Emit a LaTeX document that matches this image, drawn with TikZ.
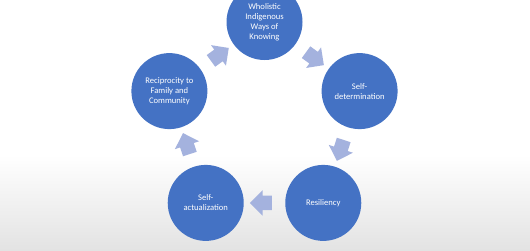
\documentclass[tikz,border=0pt]{standalone}
\usepackage{fontspec}
\setmainfont{Carlito}
\usetikzlibrary{calc,shapes.arrows}
\definecolor{circleblue}{RGB}{68,114,196}
\definecolor{arrowblue}{RGB}{164,178,222}

\begin{document}
\begin{tikzpicture}[
    x=1pt,
    y=1pt,
    stage/.style={circle,fill=circleblue,minimum size=76pt,inner sep=1pt,
      align=center,text=white,font=\fontsize{8.6}{10}\selectfont},
    cyclearrow/.style={single arrow,fill=arrowblue,minimum height=22pt,
      inner xsep=0pt,inner ysep=7pt,single arrow head extend=5.5pt}
]
  \useasboundingbox (0,0) rectangle (530,250);
  \clip (0,0) rectangle (530,250);
  % background
  \fill[white] (0,0) rectangle (530,250);
  \shade[top color=white,bottom color=black!11] (0,0) rectangle (530,95);

  \coordinate (hub) at (264.5,128);
  \node[stage] (wholistic) at ($(hub)+(90:100)$) {Wholistic\\Indigenous\\Ways of\\Knowing};
  \node[stage] (selfdet) at ($(hub)+(18:100)$) {Self-\\determination};
  \node[stage] (resil) at ($(hub)+(-54:100)$) {Resiliency};
  \node[stage] (selfact) at ($(hub)+(234:100)$) {Self-\\actualization};
  \node[stage] (recip) at ($(hub)+(162:100)$) {Reciprocity to\\Family and\\Community};

  % block arrows between the stages
  \foreach \a/\b/\r [count=\i] in {wholistic/selfdet/-36,selfdet/resil/-108,
      resil/selfact/180,selfact/recip/108,recip/wholistic/36}
    \node[cyclearrow,rotate=\r] (step\i) at ($(\a)!0.5!(\b)$) {};
\end{tikzpicture}
\end{document}
